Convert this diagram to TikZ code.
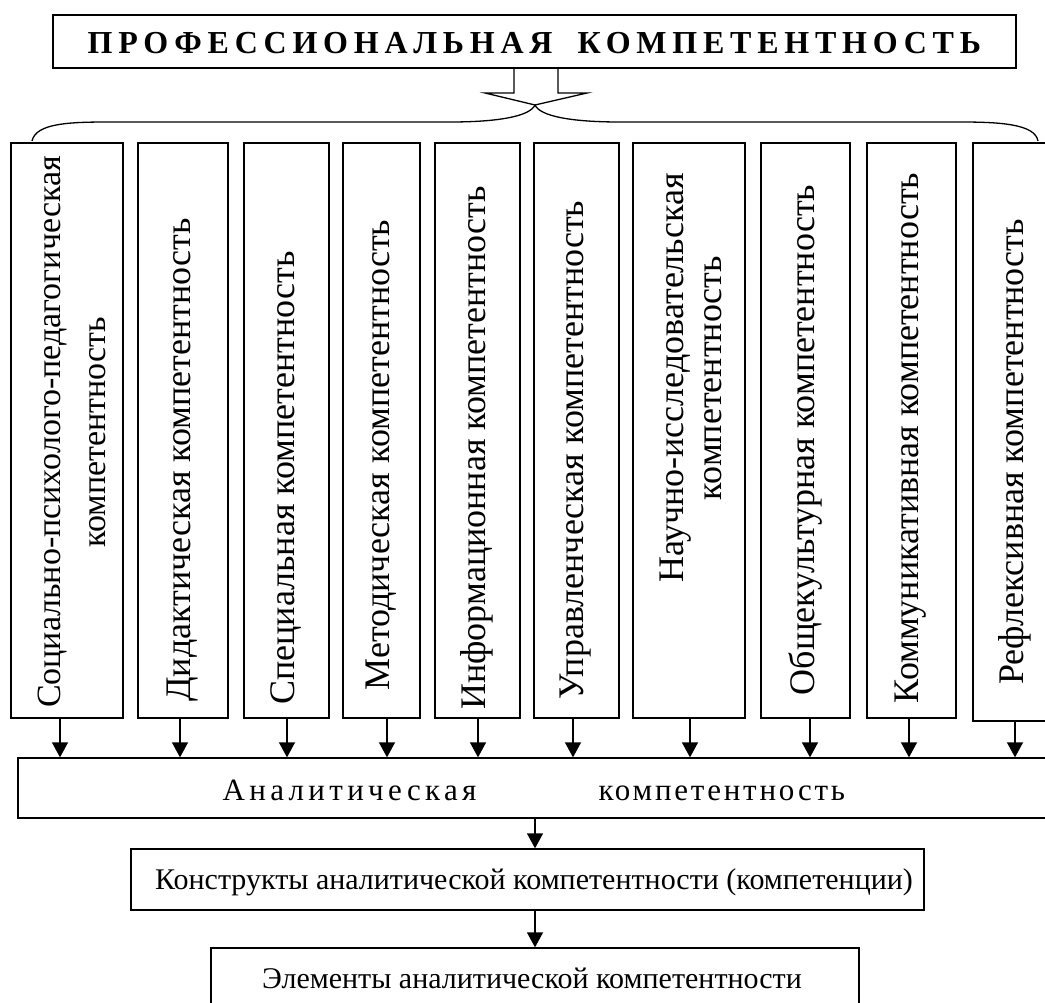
\documentclass[tikz,border=0pt]{standalone}
\usepackage{fontspec}
\setmainfont{Liberation Serif}
\usetikzlibrary{arrows.meta}
\begin{document}
\begin{tikzpicture}[x=1pt,y=-1pt,line width=1.3pt,
  box/.style={draw,inner sep=0pt},
  vtext/.style={rotate=90,inner sep=0pt,align=center,font=\fontsize{36}{44}\selectfont},
  htext/.style={inner sep=0pt,anchor=base,font=\fontsize{30}{34}\selectfont},
  ttext/.style={inner sep=0pt,anchor=base west,font=\bfseries\fontsize{32}{36}\selectfont\addfontfeature{LetterSpace=18}},
  atext/.style={inner sep=0pt,anchor=base west,font=\fontsize{31}{36}\selectfont\addfontfeature{LetterSpace=#1}},
  arr/.style={-{Triangle[width=16pt,length=15pt]}}]
\useasboundingbox (0,0) rectangle (1045,1003);
% title
\node[box,minimum width=963pt,minimum height=53pt] (top) at (534.5,41.5) {};
\node[ttext] (toptext1) at (87,54) {ПРОФЕССИОНАЛЬНАЯ};
\node[ttext] (toptext2) at (577,54) {КОМПЕТЕНТНОСТЬ};
% hollow arrow + brace
\coordinate (tip) at (535,105);
\draw (top.south -| 514,0) -- (514,93) -- (485,93) -- (tip) -- (587,93) -- (558,93) -- (top.south -| 558,0);
\draw (32,141) .. controls (36,123) and (70,122) .. (110,122) -- (450,122)
  .. controls (500,122) and (530,116) .. (tip)
  .. controls (540,116) and (570,122) .. (620,122) -- (960,122)
  .. controls (1000,122) and (1035,124) .. (1038,141);
% vertical boxes
\node[box,minimum width=112pt,minimum height=575pt] (b1) at (67,430.5) {};
\node[box,minimum width=90pt,minimum height=575pt] (b2) at (183,430.5) {};
\node[box,minimum width=85pt,minimum height=575pt] (b3) at (286.5,430.5) {};
\node[box,minimum width=77pt,minimum height=575pt] (b4) at (381.5,430.5) {};
\node[box,minimum width=85pt,minimum height=575pt] (b5) at (477.5,430.5) {};
\node[box,minimum width=85pt,minimum height=575pt] (b6) at (576.5,430.5) {};
\node[box,minimum width=112pt,minimum height=575pt] (b7) at (689,430.5) {};
\node[box,minimum width=89pt,minimum height=575pt] (b8) at (805.5,430.5) {};
\node[box,minimum width=89pt,minimum height=575pt] (b9) at (911.5,430.5) {};
\node[box,minimum width=80pt,minimum height=578pt] (b10) at (1013,432) {};
\node[vtext,font=\fontsize{34}{45}\selectfont] (t1) at (72,432) {Социально-психолого-педагогическая\\компетентность};
\node[vtext] (t2) at (183,460) {Дидактическая компетентность};
\node[vtext] (t3) at (286,478) {Специальная компетентность};
\node[vtext] (t4) at (381,455) {Методическая компетентность};
\node[vtext] (t5) at (477,448) {Информационная компетентность};
\node[vtext] (t6) at (576,450) {Управленческая компетентность};
\node[vtext,font=\fontsize{36}{38}\selectfont] (t7) at (691,378) {Научно-исследовательская\\компетентность};
\node[vtext] (t8) at (805,440) {Общекультурная компетентность};
\node[vtext] (t9) at (911,438) {Коммуникативная компетентность};
\node[vtext] (t10) at (1015,452) {Рефлексивная компетентность};
% analytic
\node[box,minimum width=1032pt,minimum height=60pt] (ana) at (534,788) {};
\node[atext=14] (anatext1) at (222,800) {Аналитическая};
\node[atext=9] (anatext2) at (598,800) {компетентность};
\foreach \i/\x in {1/60,2/180,3/287,4/387,5/478,6/573,7/690,8/810,9/909,10/1015}{
  \coordinate (c\i) at (\x,0);
  \draw[arr] (b\i.south -| c\i) -- (ana.north -| c\i);
}
% constructs
\node[box,minimum width=793pt,minimum height=61pt] (kon) at (527.5,879.5) {};
\node[htext] (kontext) at (534,889) {Конструкты аналитической компетентности (компетенции)};
\coordinate (mid) at (535,0);
\draw[arr] (ana.south -| mid) -- (kon.north -| mid);
% elements
\node[box,minimum width=648pt,minimum height=62pt] (el) at (535,979) {};
\node[htext] (eltext) at (532,988) {Элементы аналитической компетентности};
\draw[arr] (kon.south -| mid) -- (el.north -| mid);
\end{tikzpicture}
\end{document}
